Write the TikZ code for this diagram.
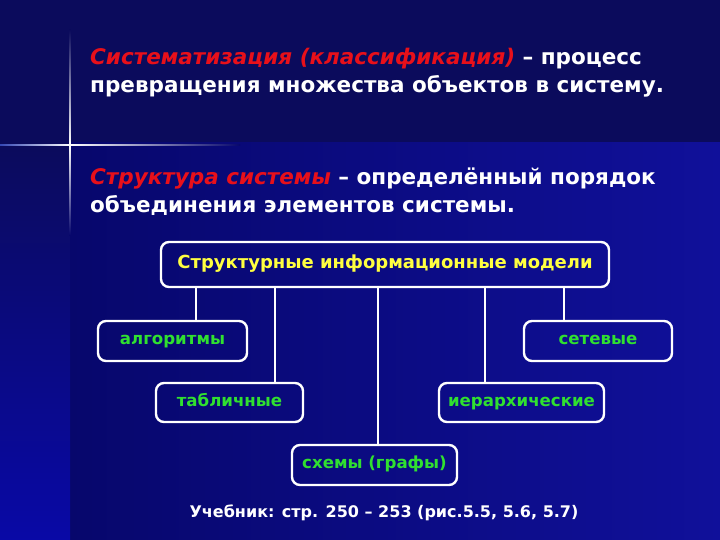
\documentclass[tikz,border=0pt]{standalone}
\usepackage{fontspec}
\setmainfont{DejaVu Sans}
\definecolor{topbg}{HTML}{0B0B5C}
\definecolor{lowleft}{HTML}{07076C}
\definecolor{lowright}{HTML}{10109A}
\definecolor{stripbot}{HTML}{0909A6}
\definecolor{glow}{HTML}{5070F0}
\definecolor{termred}{HTML}{E8101A}
\definecolor{headyellow}{HTML}{FFFF40}
\definecolor{leafgreen}{HTML}{30E030}
\begin{document}
\begin{tikzpicture}[x=1pt, y=-1pt,
	box/.style={shape=rectangle, draw=white, line width=2.4pt, rounded corners=8pt, inner sep=0pt, text height=1.6ex, text depth=0.3ex},
	link/.style={draw=white, line width=2.4pt},
	deftext/.style={anchor=base west, inner sep=0pt, text=white, font=\bfseries\fontsize{21.5}{26}\selectfont},
	leaftext/.style={text=leafgreen, font=\bfseries\fontsize{16.6}{20}\selectfont}]
	% background
	\useasboundingbox (0,0) rectangle (720,540);
	\fill[topbg] (0,0) rectangle (720,143);
	\shade[left color=lowleft, right color=lowright] (70,143) rectangle (720,540);
	\shade[top color=topbg, bottom color=stripbot] (0,143) rectangle (70,540);
	% sparkle
	\shade[left color=glow!60!topbg, right color=white] (0,144.2) rectangle (70,145.8);
	\shade[left color=white, right color=lowleft] (70,144.2) rectangle (240,145.8);
	\shade[top color=topbg, bottom color=white] (69.2,30) rectangle (70.8,145);
	\shade[top color=white, bottom color=lowleft] (69.2,145) rectangle (70.8,235);
	% definitions
	\node[deftext] (sysa) at (90,65) {\textcolor{termred}{\itshape Систематизация (классификация)} – процесс};
	\node[deftext] (sysb) at (90,93) {превращения множества объектов в систему.};
	\node[deftext] (strua) at (90,185) {\textcolor{termred}{\itshape Структура системы} – определённый порядок};
	\node[deftext] (strub) at (90,212) {объединения элементов системы.};
	% tree
	\node[box, minimum width=448pt, minimum height=45pt, text=headyellow, font=\bfseries\fontsize{18}{22}\selectfont] (models) at (385,264.5) {Структурные информационные модели};
	\node[box, leaftext, minimum width=149pt, minimum height=40pt] (algo) at (172.5,341) {алгоритмы};
	\node[box, leaftext, minimum width=148pt, minimum height=40pt] (nets) at (598,341) {сетевые};
	\node[box, leaftext, minimum width=147pt, minimum height=39pt] (tabl) at (229.5,402.5) {табличные};
	\node[box, leaftext, minimum width=165pt, minimum height=39pt] (hier) at (521.5,402.5) {иерархические};
	\node[box, leaftext, minimum width=165pt, minimum height=40pt] (graphs) at (374.5,465) {схемы (графы)};
	\draw[link] ([xshift=23.5pt]algo.north) -- ([xshift=23.5pt]algo.north |- models.south);
	\draw[link] ([xshift=45.5pt]tabl.north) -- ([xshift=45.5pt]tabl.north |- models.south);
	\draw[link] ([xshift=3.5pt]graphs.north) -- ([xshift=3.5pt]graphs.north |- models.south);
	\draw[link] ([xshift=-36.5pt]hier.north) -- ([xshift=-36.5pt]hier.north |- models.south);
	\draw[link] ([xshift=-34pt]nets.north) -- ([xshift=-34pt]nets.north |- models.south);
	% reference
	\node[anchor=base, inner sep=0pt, text=white, font=\bfseries\fontsize{16}{19}\selectfont] (book) at (384,517) {Учебник: стр. 250 – 253 (рис.5.5, 5.6, 5.7)};
\end{tikzpicture}
\end{document}
